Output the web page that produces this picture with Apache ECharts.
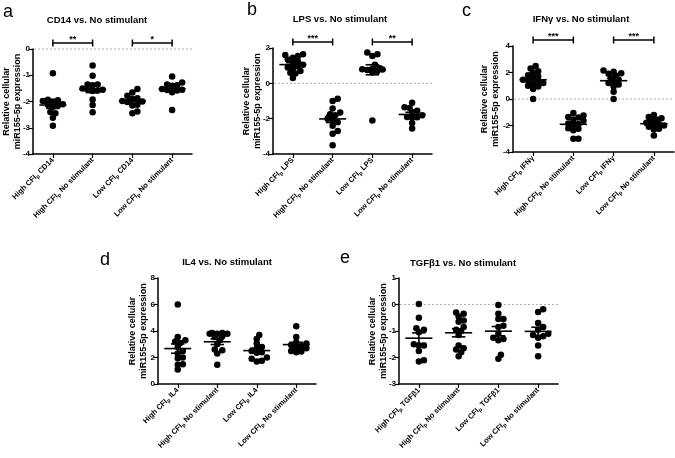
<!DOCTYPE html>
<html><head><meta charset="utf-8">
<script src="https://cdn.jsdelivr.net/npm/echarts@6/dist/echarts.min.js"></script>
<style>html,body{margin:0;padding:0;background:#fff}#c{width:675px;height:458px}</style>
</head><body><div id="c"></div>
<script>
// ---------------- DATA ----------------
const yAxisName = "Relative cellular\nmiR155-5p expression";

const aTitle = "CD14 vs. No stimulant";
const aCats = ["High CFIp CD14", "High CFIp No stimulant", "Low CFIp CD14", "Low CFIp No stimulant"];
const aValues = [
  [-0.92, -1.95, -1.98, -2.0, -1.93, -2.1, -2.15, -2.2, -2.12, -2.45, -2.4, -2.62, -2.92],
  [-0.63, -1.02, -1.35, -1.38, -1.35, -1.5, -1.55, -1.55, -1.58, -1.6, -1.92, -2.13, -2.41],
  [-1.52, -1.66, -1.78, -1.88, -1.9, -1.98, -2.0, -2.02, -2.12, -2.15, -2.38, -2.45],
  [-1.05, -1.28, -1.4, -1.35, -1.38, -1.55, -1.56, -1.58, -1.52, -1.65, -2.32]
];
const aYTicks = [-4, -3, -2, -1, 0];
const aStars = ["**", "*"];

const bTitle = "LPS vs. No stimulant";
const bCats = ["High CFIp LPS", "High CFIp No stimulant", "Low CFIp LPS", "Low CFIp No stimulant"];
const bValues = [
  [1.65, 1.6, 1.55, 1.45, 1.35, 1.25, 1.15, 1.05, 0.95, 0.9, 0.85, 0.7, 0.6, 0.55, 0.3],
  [-0.87, -1.0, -1.42, -1.65, -1.75, -1.8, -2.0, -2.05, -2.2, -2.4, -2.7, -2.85, -3.5],
  [1.75, 1.65, 1.55, 1.05, 0.85, 0.82, 0.8, 0.78, 0.75, 0.7, 0.62, -2.1],
  [-1.1, -1.35, -1.4, -1.55, -1.62, -1.8, -1.9, -1.95, -1.92, -2.25, -2.55]
];
const bYTicks = [-4, -2, 0, 2];
const bStars = ["***", "**"];

const cTitle = "IFNγ vs. No stimulant";
const cCats = ["High CFIp IFNγ", "High CFIp No stimulant", "Low CFIp IFNγ", "Low CFIp No stimulant"];
const cValues = [
  [2.5, 2.3, 2.1, 2.0, 1.8, 1.7, 1.6, 1.45, 1.4, 1.35, 1.2, 1.15, 1.0, 0.95, 0.75, 0.0],
  [-1.05, -1.25, -1.35, -1.4, -1.55, -1.65, -1.85, -1.9, -1.95, -2.2, -2.25, -2.35, -3.0, -3.0],
  [2.15, 2.05, 1.95, 1.9, 1.75, 1.6, 1.45, 1.3, 1.2, 1.1, 0.95, 0.55, 0.0],
  [-1.2, -1.35, -1.45, -1.55, -1.65, -1.8, -1.9, -1.95, -2.0, -2.1, -2.25, -2.3, -2.75]
];
const cYTicks = [-4, -2, 0, 2, 4];
const cStars = ["***", "***"];

const dTitle = "IL4 vs. No stimulant";
const dCats = ["High CFIp IL4", "High CFIp No stimulant", "Low CFIp IL4", "Low CFIp No stimulant"];
const dValues = [
  [6.0, 3.55, 3.3, 3.2, 3.1, 2.8, 2.5, 2.3, 2.0, 1.95, 1.5, 1.45, 1.1],
  [3.85, 3.85, 3.8, 3.8, 3.8, 3.6, 3.55, 3.3, 3.0, 2.6, 2.55, 2.3, 1.45],
  [3.7, 3.4, 3.05, 2.8, 2.7, 2.5, 2.4, 2.35, 2.0, 1.9, 1.75, 1.7],
  [4.35, 3.55, 3.15, 3.05, 2.95, 2.85, 2.75, 2.7, 2.5, 2.45, 2.4]
];
const dYTicks = [0, 2, 4, 6, 8];
const dStars = [];

const eTitle = "TGFβ1 vs. No stimulant";
const eCats = ["High CFIp TGFβ1", "High CFIp No stimulant", "Low CFIp TGFβ1", "Low CFIp No stimulant"];
const eValues = [
  [0.02, -0.5, -0.9, -0.95, -1.05, -1.5, -1.55, -1.55, -1.75, -2.1, -2.15],
  [-0.3, -0.35, -0.45, -0.6, -0.65, -0.85, -0.95, -1.0, -1.15, -1.55, -1.65, -1.7, -1.8, -1.95],
  [-0.02, -0.35, -0.55, -0.55, -0.8, -0.85, -1.1, -1.25, -1.3, -1.35, -1.9, -2.05],
  [-0.18, -0.28, -0.7, -0.85, -0.95, -1.1, -1.15, -1.2, -1.25, -1.55, -1.95]
];
const eYTicks = [-3, -2, -1, 0, 1];
const eStars = [];

// ---------------- LAYOUT ----------------
const FONT = '"Liberation Sans", Arial, sans-serif';
const panels = [
  {letter: "a", title: aTitle, cats: aCats, values: aValues, ticks: aYTicks, stars: aStars, zero: true,
   grid: {left: 31, top: 49, width: 161, height: 105}, lx: 3, ly: 21, tx: 97, ty: 20, nameGap: 10},
  {letter: "b", title: bTitle, cats: bCats, values: bValues, ticks: bYTicks, stars: bStars, zero: true,
   grid: {left: 273, top: 48, width: 159, height: 106}, lx: 247, ly: 19, tx: 340, ty: 19, nameGap: 10},
  {letter: "c", title: cTitle, cats: cCats, values: cValues, ticks: cYTicks, stars: cStars, zero: true,
   grid: {left: 513, top: 46, width: 161, height: 106}, lx: 462, ly: 20, tx: 581, ty: 19, nameGap: 12},
  {letter: "d", title: dTitle, cats: dCats, values: dValues, ticks: dYTicks, stars: dStars, zero: false,
   grid: {left: 158, top: 278, width: 158, height: 106}, lx: 100, ly: 269, tx: 227, ty: 262, nameGap: 9},
  {letter: "e", title: eTitle, cats: eCats, values: eValues, ticks: eYTicks, stars: eStars, zero: true,
   grid: {left: 399, top: 278, width: 159, height: 106}, lx: 340, ly: 267, tx: 463, ty: 263, nameGap: 10}
];

// beeswarm-style horizontal spreading (layout only; values are untouched)
function swarm(vals, pxX, pxY, dia, maxPx) {
  const order = vals.map((v, i) => i).sort((p, q) => vals[p] - vals[q]);
  const placed = [];
  const off = new Array(vals.length).fill(0);
  const stepPx = dia * 0.55;
  const cands = [0];
  for (let n = 1; n * stepPx <= maxPx; n++) { cands.push(n * stepPx, -n * stepPx); }
  for (const i of order) {
    let best = 0, bestD = -1;
    for (const c of cands) {
      let minD = Infinity;
      for (const p of placed) {
        const dx = c - p.x, dy = (vals[i] - p.y) * pxY;
        minD = Math.min(minD, dx * dx + dy * dy);
      }
      if (minD >= dia * dia) { best = c; bestD = minD; break; }
      if (minD > bestD) { bestD = minD; best = c; }
    }
    placed.push({x: best, y: vals[i]});
    off[i] = best / pxX;
  }
  return off;
}

function meanSem(arr) {
  const n = arr.length;
  const m = arr.reduce((s, v) => s + v, 0) / n;
  const sd = Math.sqrt(arr.reduce((s, v) => s + (v - m) * (v - m), 0) / (n - 1));
  return [m, sd / Math.sqrt(n)];
}

const grids = [], xAxes = [], yAxes = [], series = [], graphics = [];

panels.forEach((P, pi) => {
  grids.push(Object.assign({containLabel: false}, P.grid));
  const ymin = P.ticks[0], ymax = P.ticks[P.ticks.length - 1];
  const interval = P.ticks[1] - P.ticks[0];
  xAxes.push({
    gridIndex: pi, type: "category", data: P.cats, boundaryGap: true,
    axisLine: {show: true, onZero: false, lineStyle: {color: "#000", width: 1.5}},
    axisTick: {show: true, alignWithLabel: true, length: 4, lineStyle: {color: "#000", width: 1.2}},
    splitLine: {show: false},
    axisLabel: {
      interval: 0, rotate: 45, margin: 5, color: "#000", fontSize: 7.5, fontWeight: "bold", fontFamily: FONT,
      formatter: v => v.replace("CFIp", "CFI{s|p}"),
      rich: {s: {fontSize: 5.5, fontWeight: "bold", fontFamily: FONT, color: "#000", verticalAlign: "bottom", padding: [4, 0, 0, 0]}}
    }
  });
  const valAxisIdx = xAxes.length;
  xAxes.push({gridIndex: pi, type: "value", min: -0.5, max: 3.5, show: false,
    axisLine: {onZero: false}, splitLine: {show: false}});
  yAxes.push({
    gridIndex: pi, type: "value", min: ymin, max: ymax, interval: interval,
    axisLine: {show: true, onZero: false, lineStyle: {color: "#000", width: 1.5}},
    axisTick: {show: true, length: 4, lineStyle: {color: "#000", width: 1.2}},
    splitLine: {show: false},
    axisLabel: {color: "#000", fontSize: 8, fontWeight: "bold", fontFamily: FONT, margin: 3},
    name: yAxisName, nameLocation: "middle", nameGap: P.nameGap, nameMoveOverlap: false,
    nameTextStyle: {color: "#000", fontSize: 9, fontWeight: "bold", fontFamily: FONT, lineHeight: 11}
  });

  const pxX = P.grid.width / 4;
  const pxY = P.grid.height / (ymax - ymin);
  const pts = [];
  const stats = [];
  P.values.forEach((vals, gi) => {
    const off = swarm(vals, pxX, pxY, 4.6, 11);
    vals.forEach((v, k) => pts.push([gi + off[k], v]));
    const ms = meanSem(vals);
    stats.push([gi, ms[0], ms[1]]);
  });

  if (P.zero) {
    series.push({
      type: "custom", xAxisIndex: valAxisIdx, yAxisIndex: pi, data: [[-0.5, 3.5, 0]], z: 1, silent: true, clip: false,
      renderItem: (params, api) => {
        const p0 = api.coord([api.value(0), api.value(2)]);
        const p1 = api.coord([api.value(1), api.value(2)]);
        return {type: "line", shape: {x1: p0[0] + 1, y1: p0[1], x2: p1[0], y2: p1[1]},
          style: {stroke: "#b0b0b0", lineWidth: 1, lineDash: [2, 2]}};
      }
    });
  }

  series.push({
    type: "scatter", xAxisIndex: valAxisIdx, yAxisIndex: pi, data: pts,
    symbol: "circle", symbolSize: 6.5, itemStyle: {color: "#000", opacity: 1, borderWidth: 0}, z: 3, silent: true
  });

  series.push({
    type: "custom", xAxisIndex: valAxisIdx, yAxisIndex: pi, data: stats, z: 5, silent: true,
    renderItem: (params, api) => {
      const x = api.value(0), m = api.value(1), s = api.value(2);
      const pm = api.coord([x, m]), ph = api.coord([x, m + s]), pl = api.coord([x, m - s]);
      const bw = api.size([1, 0])[0];
      const hw = bw * 0.34, ew = bw * 0.17;
      const st = {stroke: "#000", lineWidth: 1.6};
      return {type: "group", children: [
        {type: "line", shape: {x1: pm[0] - hw, y1: pm[1], x2: pm[0] + hw, y2: pm[1]}, style: st},
        {type: "line", shape: {x1: ph[0], y1: ph[1], x2: pl[0], y2: pl[1]}, style: st},
        {type: "line", shape: {x1: ph[0] - ew, y1: ph[1], x2: ph[0] + ew, y2: ph[1]}, style: st},
        {type: "line", shape: {x1: pl[0] - ew, y1: pl[1], x2: pl[0] + ew, y2: pl[1]}, style: st}
      ]};
    }
  });

  if (P.stars.length) {
    const brackets = P.stars.map((s, k) => [2 * k, 2 * k + 1, k]);
    series.push({
      type: "custom", xAxisIndex: valAxisIdx, yAxisIndex: pi, data: brackets, clip: false, z: 5, silent: true,
      renderItem: (params, api) => {
        const p0 = api.coord([api.value(0), ymax]);
        const p1 = api.coord([api.value(1), ymax]);
        const y = p0[1] - 6;
        const st = {stroke: "#000", lineWidth: 1.5};
        return {type: "group", children: [
          {type: "line", shape: {x1: p0[0], y1: y, x2: p1[0], y2: y}, style: st},
          {type: "line", shape: {x1: p0[0], y1: y - 3.5, x2: p0[0], y2: y + 3.5}, style: st},
          {type: "line", shape: {x1: p1[0], y1: y - 3.5, x2: p1[0], y2: y + 3.5}, style: st},
          {type: "text", style: {text: P.stars[api.value(2)], x: (p0[0] + p1[0]) / 2, y: y + 1,
            align: "center", verticalAlign: "bottom", fill: "#000", font: "bold 9px " + FONT}}
        ]};
      }
    });
  }

  graphics.push({type: "text", x: P.lx, y: P.ly, silent: true,
    style: {text: P.letter, fill: "#000", font: "18px " + FONT, align: "left", verticalAlign: "bottom"}});
  graphics.push({type: "text", x: P.tx, y: P.ty, silent: true,
    style: {text: P.title, fill: "#000", font: "bold 9.5px " + FONT, align: "center", verticalAlign: "middle"}});
});

const chart = echarts.init(document.getElementById("c"), null, {renderer: "canvas"});
chart.setOption({
  backgroundColor: "#fff",
  animation: false,
  grid: grids,
  xAxis: xAxes,
  yAxis: yAxes,
  series: series,
  graphic: graphics
});
</script>
</body></html>
